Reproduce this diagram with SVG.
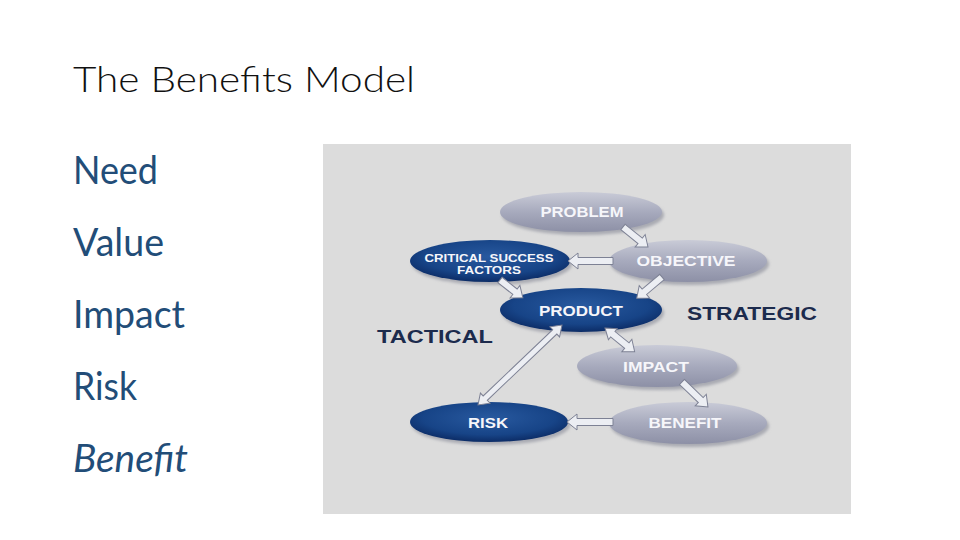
<svg xmlns="http://www.w3.org/2000/svg" width="960" height="540" viewBox="0 0 960 540">
<defs>
<style>
.title{font-family:Lato,"Open Sans","Liberation Sans",sans-serif;font-size:36px;fill:#111;font-weight:300}
.item{font-family:Lato,"Open Sans","Liberation Sans",sans-serif;font-size:38px;fill:#224d78}
.lbl{font-family:"Liberation Sans",Arial,sans-serif;font-weight:bold;font-size:14px;fill:#f6f6fa;text-anchor:middle}
.lbls{font-family:"Liberation Sans",Arial,sans-serif;font-weight:bold;font-size:10.5px;fill:#f6f6fa;text-anchor:middle}
.side{font-family:"Liberation Sans",Arial,sans-serif;font-weight:bold;font-size:18px;fill:#1c2b4d}
.grey{fill:url(#gGrey)}
.blue{fill:url(#gBlue)}
.shadow{fill:#a9aab2;filter:url(#blur)}
.arr{fill:#eceef3;stroke:#7d8194;stroke-width:1;stroke-linejoin:miter}
</style>
<linearGradient id="gGrey" x1="0" y1="0" x2="0" y2="1">
<stop offset="0" stop-color="#c9cbd7"/>
<stop offset="0.5" stop-color="#a7aabd"/>
<stop offset="1" stop-color="#8d90a6"/>
</linearGradient>
<radialGradient id="gBlue" cx="0.5" cy="0.4" r="0.6">
<stop offset="0" stop-color="#28599f"/>
<stop offset="0.7" stop-color="#174487"/>
<stop offset="1" stop-color="#0c2c66"/>
</radialGradient>
<filter id="blur" x="-20%" y="-40%" width="140%" height="180%">
<feGaussianBlur stdDeviation="1.5"/>
</filter>
</defs>

<rect x="0" y="0" width="960" height="540" fill="#ffffff"/>
<text class="title" x="73" y="92" textLength="342" lengthAdjust="spacingAndGlyphs">The Benefits Model</text>
<g id="list">
<text class="item" x="73" y="184" textLength="85" lengthAdjust="spacingAndGlyphs">Need</text>
<text class="item" x="73" y="256" textLength="91" lengthAdjust="spacingAndGlyphs">Value</text>
<text class="item" x="73" y="328" textLength="112" lengthAdjust="spacingAndGlyphs">Impact</text>
<text class="item" x="73" y="400" textLength="64" lengthAdjust="spacingAndGlyphs">Risk</text>
<text class="item" x="73" y="472" textLength="115" lengthAdjust="spacingAndGlyphs" font-style="italic">Benefit</text>
</g>

<rect id="panel" x="323" y="144" width="528" height="370" fill="#dcdcdc"/>

<g id="problem">
<ellipse class="shadow" cx="583" cy="215" rx="81" ry="20"/>
<ellipse class="grey" cx="581" cy="212" rx="81" ry="20"/>
<text class="lbl" x="582" y="217" textLength="83" lengthAdjust="spacingAndGlyphs">PROBLEM</text>
</g>
<g id="csf">
<ellipse class="shadow" cx="492" cy="264" rx="80" ry="21"/>
<ellipse class="blue" cx="490" cy="261" rx="80" ry="21"/>
<text class="lbls" x="489" y="262" textLength="129" lengthAdjust="spacingAndGlyphs">CRITICAL SUCCESS</text>
<text class="lbls" x="489" y="274" textLength="64" lengthAdjust="spacingAndGlyphs">FACTORS</text>
</g>
<g id="objective">
<ellipse class="shadow" cx="690" cy="264" rx="79" ry="21"/>
<ellipse class="grey" cx="688" cy="261" rx="79" ry="21"/>
<text class="lbl" x="686" y="266" textLength="99" lengthAdjust="spacingAndGlyphs">OBJECTIVE</text>
</g>
<g id="product">
<ellipse class="shadow" cx="583" cy="313" rx="81" ry="22"/>
<ellipse class="blue" cx="581" cy="310" rx="81" ry="22"/>
<text class="lbl" x="581" y="316" textLength="84" lengthAdjust="spacingAndGlyphs">PRODUCT</text>
</g>
<g id="impact">
<ellipse class="shadow" cx="659" cy="369" rx="80" ry="21"/>
<ellipse class="grey" cx="657" cy="366" rx="80" ry="21"/>
<text class="lbl" x="656" y="372" textLength="66" lengthAdjust="spacingAndGlyphs">IMPACT</text>
</g>
<g id="risk">
<ellipse class="shadow" cx="491" cy="425" rx="79" ry="20"/>
<ellipse class="blue" cx="489" cy="422" rx="79" ry="20"/>
<text class="lbl" x="488" y="428" textLength="40" lengthAdjust="spacingAndGlyphs">RISK</text>
</g>
<g id="benefit">
<ellipse class="shadow" cx="690" cy="426" rx="79" ry="21"/>
<ellipse class="grey" cx="688" cy="423" rx="79" ry="21"/>
<text class="lbl" x="685" y="428" textLength="73" lengthAdjust="spacingAndGlyphs">BENEFIT</text>
</g>
<g id="strategic"><text class="side" x="687" y="320" textLength="130" lengthAdjust="spacingAndGlyphs">STRATEGIC</text></g>
<g id="tactical"><text class="side" x="377" y="343" textLength="116" lengthAdjust="spacingAndGlyphs">TACTICAL</text></g>

<g id="connectors">
<path class="arr" transform="translate(623,227) rotate(38.7)" d="M0,-3.5 L22,-3.5 L22,-8 L32,0 L22,8 L22,3.5 L0,3.5 Z"/>
<path class="arr" transform="translate(613,261) rotate(180)" d="M0,-3.5 L35,-3.5 L35,-8 L45,0 L35,8 L35,3.5 L0,3.5 Z"/>
<path class="arr" transform="translate(500,280) rotate(38)" d="M0,-3.5 L19,-3.5 L19,-8 L29,0 L19,8 L19,3.5 L0,3.5 Z"/>
<path class="arr" transform="translate(662,277) rotate(140)" d="M0,-3.5 L23,-3.5 L23,-8 L33,0 L23,8 L23,3.5 L0,3.5 Z"/>
<path class="arr" transform="translate(562,325) rotate(136.4)" d="M0,0 L10,-7 L10,-3 L106,-3 L106,-7 L116,0 L106,7 L106,3 L10,3 L10,7 Z"/>
<path class="arr" transform="translate(605,328) rotate(38.7)" d="M0,0 L10,-7 L10,-3.5 L28,-3.5 L28,-8 L38,0 L28,8 L28,3.5 L10,3.5 L10,7 Z"/>
<path class="arr" transform="translate(682,382) rotate(43.9)" d="M0,-3.5 L26,-3.5 L26,-8 L36,0 L26,8 L26,3.5 L0,3.5 Z"/>
<path class="arr" transform="translate(613,422) rotate(180)" d="M0,-3.5 L36,-3.5 L36,-8 L46,0 L36,8 L36,3.5 L0,3.5 Z"/>
</g>
</svg>
